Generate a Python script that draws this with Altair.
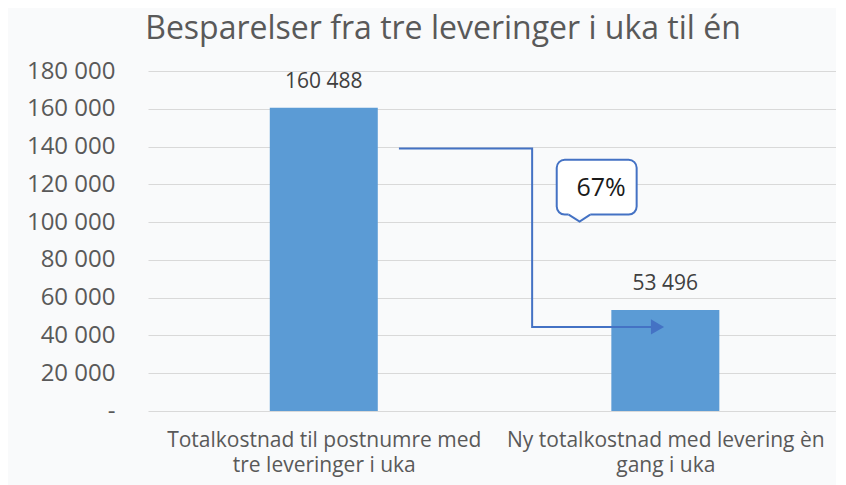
import json
import altair as alt
import pandas as pd

# ---- data ----
cat_lines = [
    ["Totalkostnad til postnumre med", "tre leveringer i uka"],
    ["Ny totalkostnad med levering èn", "gang i uka"],
]
categories = [" ".join(l) for l in cat_lines]
values = [160488, 53496]
y_max = 180000
y_tick_count = 9          # ticks every 20 000 from 0 to 180 000
title_text = "Besparelser fra tre leveringer i uka til én"

# arrow (x in category units: category centres at 0.5 and 1.5; y in value units)
arrow_x = [0.72, 1.11, 1.11, 1.46]
arrow_y = [139000, 139000, 44500, 44500]
arrow_head_x = [1.477]
arrow_head_y = [44500]

# callout
box_x = [1.182, 1.416]
box_y = [104000, 133000]
tail_x = [1.217, 1.249, 1.280]
tail_y = [104000, 100300, 104000]
callout_text = ["67%"]
callout_pos = [1.312, 118200]

BLUE = "#5B9BD5"
LINE = "#4472C4"
GREY = "#595959"
FONT = "Open Sans"

df = pd.DataFrame({"kategori": categories, "verdi": values})
df["pos"] = [i + 0.5 for i in range(len(categories))]
df["lbl"] = [f"{v:,}".replace(",", " ") for v in values]

label_expr = f"datum.value < 1 ? {json.dumps(cat_lines[0])} : {json.dumps(cat_lines[1])}"
y_label_expr = "datum.value == 0 ? '-\u00a0\u00a0' : replace(format(datum.value, ','), ',', ' ')"

yscale = alt.Scale(domain=[0, y_max], nice=False)
xq = alt.Scale(domain=[0, 1.985], nice=False, zero=False)

bars = alt.Chart(df).mark_bar(color=BLUE, size=108).encode(
    x=alt.X("pos:Q", scale=xq, title=None,
            axis=alt.Axis(values=[0.5, 1.5], labelExpr=label_expr)),
    y=alt.Y("verdi:Q", scale=yscale, title=None,
            axis=alt.Axis(labelExpr=y_label_expr, tickCount=y_tick_count)),
)

bar_labels = alt.Chart(df).mark_text(baseline="middle", dy=-26, fontSize=21, color="#404040", font=FONT).encode(
    x=alt.X("pos:Q", scale=xq, title=None),
    y=alt.Y("verdi:Q", scale=yscale, title=None),
    text="lbl:N",
)

arrow_df = pd.DataFrame({"ax": arrow_x, "ay": arrow_y, "o": list(range(len(arrow_x)))})
arrow = alt.Chart(arrow_df).mark_line(color=LINE, strokeWidth=2).encode(
    x=alt.X("ax:Q", scale=xq, title=None),
    y=alt.Y("ay:Q", scale=yscale, title=None),
    order="o:Q",
)
head_df = pd.DataFrame({"ax": arrow_head_x, "ay": arrow_head_y})
head = alt.Chart(head_df).mark_point(shape="triangle-right", filled=True, color=LINE, size=230, opacity=1).encode(
    x=alt.X("ax:Q", scale=xq, title=None),
    y=alt.Y("ay:Q", scale=yscale, title=None),
)

box_df = pd.DataFrame({"x1": [box_x[0]], "x2": [box_x[1]], "y1": [box_y[0]], "y2": [box_y[1]]})
box = alt.Chart(box_df).mark_rect(fill="white", stroke=LINE, strokeWidth=2, cornerRadius=8).encode(
    x=alt.X("x1:Q", scale=xq, title=None), x2="x2:Q",
    y=alt.Y("y1:Q", scale=yscale, title=None), y2="y2:Q",
)
cover_df = pd.DataFrame({"x1": [tail_x[0]], "x2": [tail_x[2]], "y": [tail_y[0]]})
cover = alt.Chart(cover_df).mark_rule(color="white", strokeWidth=4).encode(
    x=alt.X("x1:Q", scale=xq, title=None), x2="x2:Q",
    y=alt.Y("y:Q", scale=yscale, title=None),
)
tail_df = pd.DataFrame({"tx": tail_x, "ty": tail_y, "o": [0, 1, 2]})
tail = alt.Chart(tail_df).mark_line(color=LINE, strokeWidth=2).encode(
    x=alt.X("tx:Q", scale=xq, title=None),
    y=alt.Y("ty:Q", scale=yscale, title=None),
    order="o:Q",
)
txt_df = pd.DataFrame({"tx": [callout_pos[0]], "ty": [callout_pos[1]], "t": callout_text})
txt = alt.Chart(txt_df).mark_text(fontSize=25, color="#1a1a1a", font=FONT, baseline="middle").encode(
    x=alt.X("tx:Q", scale=xq, title=None),
    y=alt.Y("ty:Q", scale=yscale, title=None),
    text="t:N",
)

chart = alt.layer(bars, bar_labels, arrow, head, box, cover, tail, txt).properties(
    width=688,
    height=340,
    padding={"left": 0, "top": 5, "right": 0, "bottom": 16},
    background="#f9fafb",
    title=alt.TitleParams(title_text, fontSize=32, font=FONT, color=GREY, fontWeight="normal",
                          anchor="middle", frame="group", dx=-49, offset=13),
).configure_view(
    strokeWidth=0
).configure_axisX(
    labelAngle=0, domain=False, ticks=False, grid=False, labelFontSize=21, labelColor=GREY,
    labelFont=FONT, labelPadding=18, labelLineHeight=25, labelLimit=500, labelOverlap=False,
).configure_axisY(
    grid=True, gridColor="#d9d9d9", gridWidth=1, domain=False, ticks=False, labelFontSize=24,
    labelColor=GREY, labelFont=FONT, labelPadding=33, minExtent=140, maxExtent=140, labelLimit=500,
    labelOverlap=False, labelFlush=False, tickCount=y_tick_count,
)

chart.save("out.html", embed_options={"renderer": "svg", "actions": False})
